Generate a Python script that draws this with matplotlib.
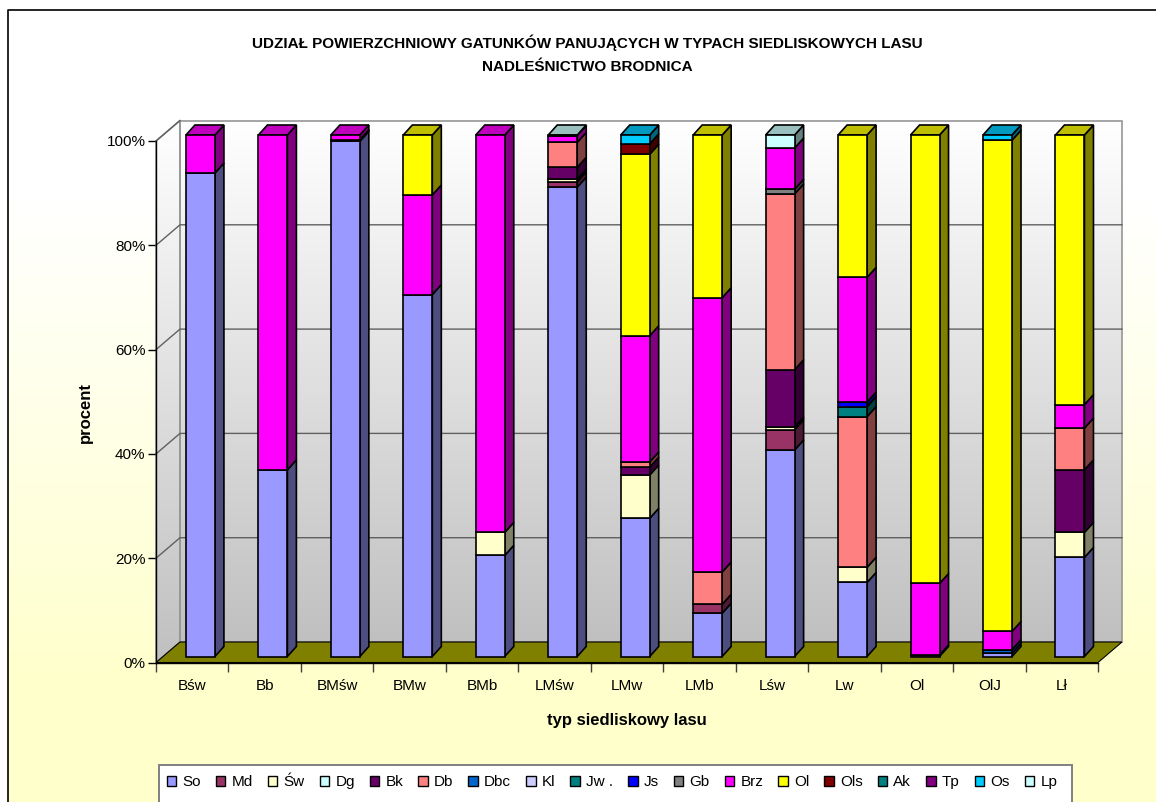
import numpy as np
import matplotlib
matplotlib.use('Agg')
import matplotlib.pyplot as plt
from matplotlib.colors import to_rgb
from matplotlib.patches import Patch, Polygon, Rectangle

plt.rcParams['font.family'] = ['Liberation Sans', 'DejaVu Sans']

title = ('UDZIAŁ POWIERZCHNIOWY GATUNKÓW PANUJĄCYCH W TYPACH SIEDLISKOWYCH LASU\n'
         'NADLEŚNICTWO BRODNICA')
types = ['Bśw', 'Bb', 'BMśw', 'BMw', 'BMb', 'LMśw', 'LMw', 'LMb', 'Lśw', 'Lw', 'Ol', 'OlJ', 'Lł']

# udzial procentowy gatunkow
So  = [92.7, 35.8, 98.8, 69.4, 19.4, 90.0, 26.5, 8.3, 39.6, 14.2, 0, 0.6, 19.0]
Md  = [0, 0, 0, 0, 0, 1.0, 0, 1.7, 3.9, 0, 0, 0, 0]
Sw  = [0, 0, 0, 0, 4.4, 0.5, 8.3, 0, 0.5, 2.9, 0, 0, 4.8]
Dg  = [0] * 13
Bk  = [0, 0, 0.3, 0, 0, 2.3, 1.5, 0, 11.0, 0, 0.3, 0, 12.0]
Db  = [0, 0, 0, 0, 0, 4.8, 1.0, 6.2, 33.7, 28.9, 0, 0, 8.0]
Dbc = [0, 0, 0, 0, 0, 0, 0, 0, 0, 0, 0, 0.7, 0]
Kl  = [0] * 13
Jw  = [0, 0, 0, 0, 0, 0, 0, 0, 0, 1.9, 0, 0, 0]
Js  = [0, 0, 0, 0, 0, 0, 0, 0, 0, 0.9, 0, 0, 0]
Gb  = [0, 0, 0, 0, 0, 0, 0, 0, 0.9, 0, 0, 0, 0]
Brz = [7.3, 64.2, 0.9, 19.1, 76.2, 1.3, 24.2, 52.6, 7.9, 23.9, 13.7, 3.5, 4.5]
Ol  = [0, 0, 0, 11.5, 0, 0, 34.8, 31.2, 0, 27.3, 86.0, 94.2, 51.7]
Ols = [0, 0, 0, 0, 0, 0, 2.0, 0, 0, 0, 0, 0, 0]
Ak  = [0] * 13
Tp  = [0] * 13
Os  = [0, 0, 0, 0, 0, 0, 1.7, 0, 0, 0, 0, 1.0, 0]
Lp  = [0, 0, 0, 0, 0, 0.1, 0, 0, 2.5, 0, 0, 0, 0]

species = ['So', 'Md', 'Św', 'Dg', 'Bk', 'Db', 'Dbc', 'Kl', 'Jw .', 'Js', 'Gb', 'Brz', 'Ol', 'Ols', 'Ak', 'Tp', 'Os', 'Lp']
values = [So, Md, Sw, Dg, Bk, Db, Dbc, Kl, Jw, Js, Gb, Brz, Ol, Ols, Ak, Tp, Os, Lp]
colors = ['#9999FF', '#993366', '#FFFFCC', '#CCFFFF', '#660066', '#FF8080', '#0066CC', '#CCCCFF', '#008080',
          '#0000FF', '#808080', '#FF00FF', '#FFFF00', '#800000', '#008080', '#800080', '#00CCFF', '#CCFFFF']

W, H = 1156, 802
fig = plt.figure(figsize=(W / 100, H / 100), dpi=100, facecolor='white')

# tlo calego wykresu
bg = fig.add_axes([0, 0, 1, 1], zorder=0)
bg.axis('off')
ramp = np.clip((np.linspace(10, H, 300) - 200) / 480, 0, 1)
grad = np.ones((300, 1, 3))
grad[:, 0, 2] = 1 - ramp * (1 - 0.8)
bg.imshow(grad, extent=(8, W, H, 10), aspect='auto', zorder=0)
bg.plot([8, 8, W], [H, 10, 10], color='black', lw=1.2, zorder=1)
bg.set_xlim(0, W)
bg.set_ylim(H, 0)

# os glowna: przednia krawedz podstawy wykresu
x0, x1, y0, y100 = 156, 1098, 662.5, 141
ax = fig.add_axes([x0 / W, (H - y0) / H, (x1 - x0) / W, (y0 - y100) / H], zorder=1)
ax.patch.set_visible(False)
n = len(types)
px = n / (x1 - x0)
py = 100 / (y0 - y100)
wall_dx, wall_dy = 24 * px, 20.5 * py
bar_w = 29 * px
bar_off = 8.2 * px
bar_lift = 6 * py
dep_x, dep_y = 9 * px, 10 * py

# sciany z gradientem
wall = np.linspace(1, 0.753, 200)[:, None, None] * np.ones((200, 1, 3))
for poly, low in (([(0, 0), (0, 100), (wall_dx, 100 + wall_dy), (wall_dx, wall_dy)], 0),
                  ([(wall_dx, wall_dy), (wall_dx, 100 + wall_dy), (n + wall_dx, 100 + wall_dy), (n + wall_dx, wall_dy)], wall_dy)):
    im = ax.imshow(wall, extent=(0, n + wall_dx, low, 100 + wall_dy), aspect='auto', zorder=0)
    edge = Polygon(poly, closed=True, transform=ax.transData, fc='none', ec='#969696', lw=1.2,
                   clip_on=False, zorder=1)
    ax.add_patch(edge)
    im.set_clip_box(fig.bbox)
    im.set_clip_path(edge)

# linie siatki
for v in range(20, 101, 20):
    ax.plot([0, wall_dx, n + wall_dx if v < 100 else wall_dx],
            [v, v + wall_dy, v + wall_dy], color='#606060', lw=1.0, clip_on=False, zorder=2)

# podloga
ax.add_patch(Polygon([(0, 0), (wall_dx, wall_dy), (n + wall_dx, wall_dy), (n, 0)], closed=True,
                     fc='#808000', ec='black', lw=0.8, clip_on=False, zorder=3))

# slupki 3d
xs = np.arange(n) + 0.5 + bar_off
bottom = np.zeros(n)
totals = np.sum(values, axis=0)
for vals, color in zip(values, colors):
    vals = np.array(vals, dtype=float)
    rgb = np.array(to_rgb(color))
    mask = vals > 0
    ax.bar(xs[mask], vals[mask], bar_w, bottom=bottom[mask] + bar_lift, color=color, edgecolor='black',
           lw=1.2, clip_on=False, zorder=5)
    for i in np.where(mask)[0]:
        left, right = xs[i] - bar_w / 2, xs[i] + bar_w / 2
        lo, hi = bottom[i] + bar_lift, bottom[i] + vals[i] + bar_lift
        ax.add_patch(Polygon([(right, lo), (right, hi), (right + dep_x, hi + dep_y), (right + dep_x, lo + dep_y)],
                             closed=True, fc=rgb * 0.5, ec='black', lw=1.2, clip_on=False, zorder=4))
        if abs(bottom[i] + vals[i] - totals[i]) < 1e-6:
            ax.add_patch(Polygon([(left, hi), (right, hi), (right + dep_x, hi + dep_y), (left + dep_x, hi + dep_y)],
                                 closed=True, fc=rgb * 0.75, ec='black', lw=1.2, clip_on=False, zorder=4))
    bottom += vals

ax.set_xlim(0, n)
ax.set_ylim(0, 100)
ax.set_xticks(range(n + 1))
ax.set_xticklabels([])
ax.set_xticks(np.arange(n) + 0.5, types, minor=True)
ax.tick_params(axis='x', which='major', length=6.5, width=1.0, color='#404040')
ax.tick_params(axis='x', which='minor', length=0, labelsize=11, pad=12)
ax.set_yticks(range(0, 101, 20), [f'{v}%' for v in range(0, 101, 20)])
ax.tick_params(axis='y', length=5.5, width=1.0, labelsize=11, pad=2)
for s in ['top', 'right']:
    ax.spines[s].set_visible(False)
for s in ['left', 'bottom']:
    ax.spines[s].set_linewidth(1.0)
    ax.spines[s].set_zorder(6)

fig.text(587 / W, 1 - 54 / H, title, ha='center', va='center', fontsize=11, fontweight='bold', linespacing=1.85)
fig.text(85 / W, 1 - 413 / H, 'procent', rotation=90, ha='center', va='center', fontsize=12, fontweight='bold')
fig.text(627 / W, 1 - 720 / H, 'typ siedliskowy lasu', ha='center', va='center', fontsize=12, fontweight='bold')

# legenda: ramka wychodzi poza dolna krawedz rysunku
bg.add_patch(Rectangle((158.5, 765), 913.5, 60, fc='white', ec='#808080', lw=1.4, zorder=2))
handles = [Patch(fc=c, ec='black', lw=1.0, label=s) for s, c in zip(species, colors)]
fig.legend(handles=handles, ncol=len(species), frameon=False, loc='center', bbox_to_anchor=(612 / W, 1 - 782 / H),
           fontsize=11, handlelength=0.62, handleheight=0.62, handletextpad=0.4, columnspacing=0.99, borderpad=0)

fig.savefig('out.png', dpi=100)
